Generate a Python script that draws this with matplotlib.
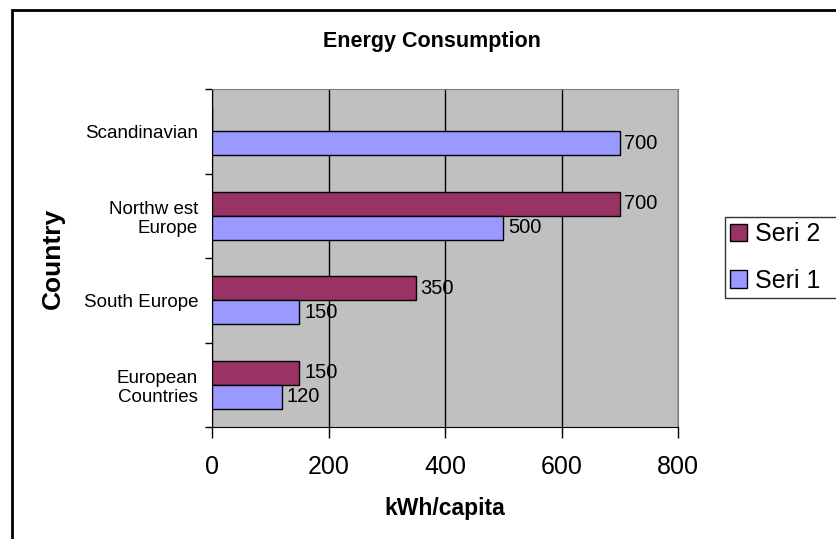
import matplotlib as mpl
mpl.use('Agg')
import matplotlib.pyplot as plt
import numpy as np
from matplotlib.patches import Rectangle

plt.rcParams['font.family'] = ['Liberation Sans', 'DejaVu Sans']

# Categories from bottom to top
countries = ['European\nCountries', 'South Europe', 'Northw est\nEurope', 'Scandinavian']
seri1 = [120, 150, 500, 700]
seri2 = [150, 350, 700, None]
seri1Color = '#9999FF'
seri2Color = '#993366'

fig = plt.figure(figsize=(8.37, 5.39), dpi=100)
ax = fig.add_axes([212/837, 1-427/539, 466/837, 338/539])
ax.set_facecolor('#C0C0C0')

#Frame around the whole chart (runs off the right and bottom edge)
fig.patches.append(Rectangle((12/837, -0.1), 1.2, 1-10/539+0.1, transform=fig.transFigure,
                             fill=False, edgecolor='black', linewidth=2))

y = np.arange(len(countries))
h = 0.284

s2vals = [v if v is not None else 0 for v in seri2]
b2 = ax.barh(y + h/2, s2vals, height=h, color=seri2Color, edgecolor='black', linewidth=1, zorder=3, label='Seri 2')
b1 = ax.barh(y - h/2, seri1, height=h, color=seri1Color, edgecolor='black', linewidth=1, zorder=3, label='Seri 1')

for yi, v in zip(y, seri2):
    if v is not None:
        ax.text(v + 8, yi + h/2, str(v), va='center', ha='left', fontsize=14.5, zorder=4)
for yi, v in zip(y, seri1):
    ax.text(v + 8, yi - h/2, str(v), va='center', ha='left', fontsize=14.5, zorder=4)

ax.set_xlim(0, 800)
ax.set_ylim(-0.5, len(countries) - 0.5)
ax.set_xticks([0, 200, 400, 600, 800])
ax.tick_params(axis='x', direction='out', length=8, width=1, labelsize=18, pad=12)
ax.xaxis.grid(True, color='black', linewidth=1, zorder=1)

#Category ticks sit between groups, labels in the middle
ax.set_yticks(np.arange(-0.5, len(countries), 1.0))
ax.set_yticklabels([])
ax.set_yticks(y, minor=True)
ax.set_yticklabels(countries, minor=True, fontsize=13.5)
ax.tick_params(axis='y', which='major', direction='out', length=5, width=1)
ax.tick_params(axis='y', which='minor', length=0, pad=10)

for s in ['top', 'right']:
    ax.spines[s].set_color('#808080')
for s in ['left', 'bottom']:
    ax.spines[s].set_color('black')

fig.text(432/837, 1-42/539, 'Energy Consumption', ha='center', va='center', fontsize=15.5, fontweight='bold')
fig.text(445/837, 1-508/539, 'kWh/capita', ha='center', va='center', fontsize=16.5, fontweight='bold')
fig.text(53/837, 1-258/539, 'Country', ha='center', va='center', rotation=90, fontsize=19, fontweight='bold')

#Legend box is wider than the figure edge, so it gets cut off on the right
leg = fig.legend([b2, b1], ['Seri 2', 'Seri 1'], loc='upper left', mode='expand',
                 bbox_to_anchor=(725/837, 1-217/539, 140/837, 0), fontsize=18, frameon=True,
                 fancybox=False, edgecolor='black', handlelength=0.7, handleheight=0.7,
                 handletextpad=0.3, borderpad=0.2, labelspacing=0.9, borderaxespad=0)
leg.get_frame().set_linewidth(1)

plt.savefig('out.png', dpi=100)
